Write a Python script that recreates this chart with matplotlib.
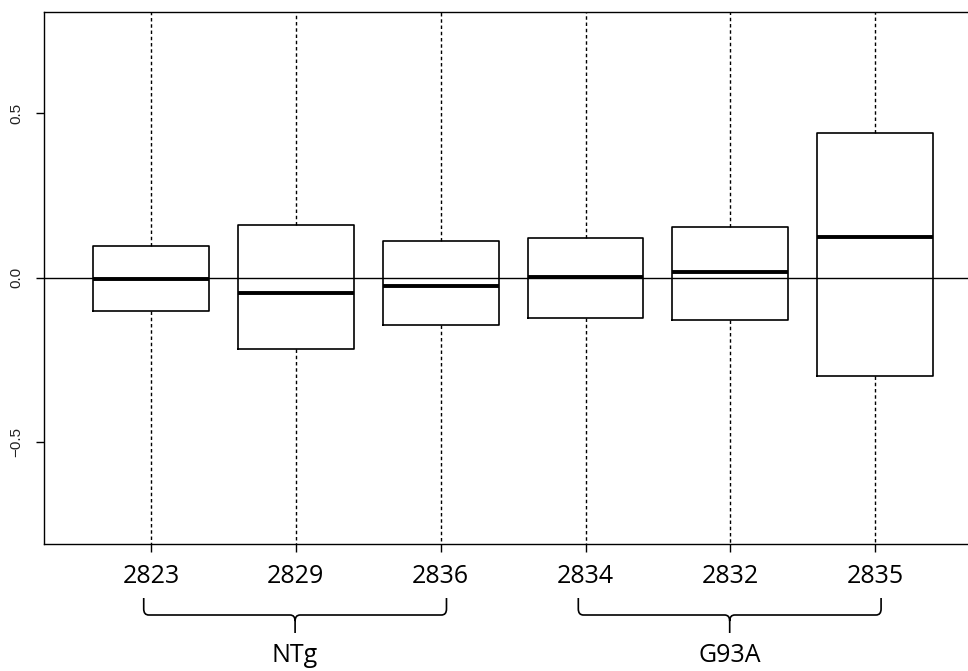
import matplotlib
matplotlib.use('Agg')
import matplotlib.pyplot as plt
from matplotlib.path import Path
from matplotlib.patches import PathPatch
from matplotlib import transforms

# boxplot values
samples = ['2823', '2829', '2836', '2834', '2832', '2835']
q1 = [-0.101, -0.218, -0.144, -0.123, -0.127, -0.299]
med = [-0.004, -0.046, -0.025, 0.002, 0.017, 0.123]
q3 = [0.096, 0.161, 0.112, 0.121, 0.153, 0.440]
# whiskers run past the plot area, so their ends are off the chart
whis_lo = [-0.95, -0.95, -0.95, -0.95, -0.95, -0.95]
whis_hi = [0.95, 0.95, 0.95, 0.95, 0.95, 0.95]

groups = ['NTg', 'G93A']
group_members = [[1, 2, 3], [4, 5, 6]]

fig = plt.figure(figsize=(9.68, 6.71), dpi=100)
ax = fig.add_axes([0.0455, 0.189, 1 - 0.0455, 0.9817 - 0.189])

stats = []
for i in range(len(samples)):
    stats.append({'med': med[i], 'q1': q1[i], 'q3': q3[i],
                  'whislo': whis_lo[i], 'whishi': whis_hi[i], 'fliers': []})

ax.bxp(stats, positions=range(1, len(samples) + 1), widths=0.8,
       showfliers=False, showcaps=False,
       boxprops=dict(color='black', linewidth=1.2),
       medianprops=dict(color='black', linewidth=2.8, solid_capstyle='butt'),
       whiskerprops=dict(color='black', linewidth=1.0, linestyle=(0, (2.5, 2))))

ax.axhline(0, color='black', linewidth=1.0, zorder=0)

ax.set_xlim(0.262, 6.64)
ax.set_ylim(-0.81, 0.807)
ax.spines['right'].set_visible(False)
for s in ['left', 'top', 'bottom']:
    ax.spines[s].set_linewidth(1.0)

ax.set_yticks([-0.5, 0.0, 0.5])
ax.set_yticklabels(['\u22120.5', '0.0', '0.5'], rotation=90, va='center',
                   fontsize=11, color='#222222', family='Liberation Sans')
ax.tick_params(axis='y', length=6, width=1.0, pad=9)

ax.set_xticks(range(1, len(samples) + 1))
ax.set_xticklabels(samples, fontsize=18, family='Open Sans')
ax.tick_params(axis='x', length=6, width=1.0, pad=8)

# group braces under the tick labels
trans = transforms.blended_transform_factory(ax.transData, fig.transFigure)
yt, ym, yb = 1 - 598 / 671, 1 - 615 / 671, 1 - 633 / 671
rx, ry = 0.035, 0.009
for name, members in zip(groups, group_members):
    xl = members[0] - 0.05
    xr = members[-1] + 0.04
    xc = (xl + xr) / 2
    verts = [(xl, yt), (xl, ym + ry), (xl, ym), (xl + rx, ym),
             (xc - rx, ym), (xc, ym), (xc, ym - ry), (xc, yb),
             (xc, ym - ry), (xc, ym), (xc + rx, ym),
             (xr - rx, ym), (xr, ym), (xr, ym + ry), (xr, yt)]
    codes = [Path.MOVETO, Path.LINETO, Path.CURVE3, Path.CURVE3,
             Path.LINETO, Path.CURVE3, Path.CURVE3, Path.LINETO,
             Path.MOVETO, Path.CURVE3, Path.CURVE3,
             Path.LINETO, Path.CURVE3, Path.CURVE3, Path.LINETO]
    ax.add_patch(PathPatch(Path(verts, codes), transform=trans, fill=False,
                           edgecolor='black', linewidth=1.2, clip_on=False))
    ax.text(xc, 1 - 655 / 671, name, transform=trans, ha='center', va='center',
            fontsize=18, family='Open Sans')

fig.savefig('out.png', dpi=100)
